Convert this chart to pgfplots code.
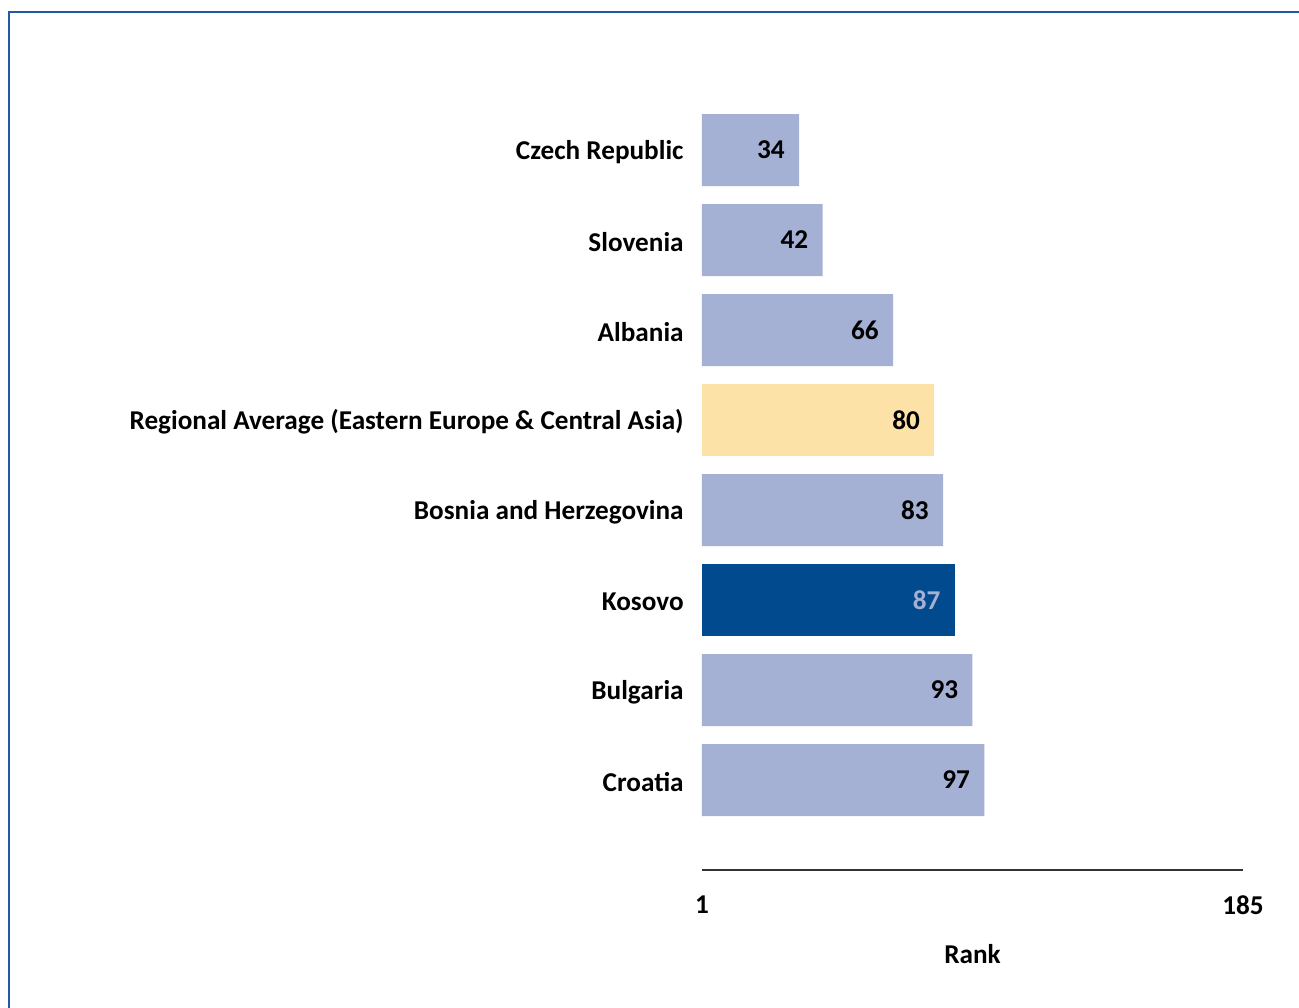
\documentclass[border=0pt]{standalone}
\usepackage{pgfplots}
\pgfplotsset{compat=1.18}
\usepackage{fontspec}
\setmainfont{Carlito}
\definecolor{barblue}{HTML}{A4B0D4}
\definecolor{kosovo}{HTML}{004A8D}
\definecolor{regavg}{HTML}{FDE2A8}
\definecolor{frameblue}{HTML}{1F5AA6}
\begin{document}
\begin{tikzpicture}[font=\bfseries\fontsize{13.6}{16}\selectfont]
\path[use as bounding box, fill=white] (-351pt,-68.5pt) rectangle (298.5pt,435pt);
\draw[frameblue, line width=1.4pt] (-346.5pt,-70pt) -- (-346.5pt,429pt) -- (300pt,429pt);
\begin{axis}[
    scale only axis,
    width=270.5pt, height=405pt,
    xbar, bar shift=0pt, bar width=36pt,
    xmin=1, xmax=185, ymin=-1, ymax=8,
    y dir=reverse,
    enlargelimits=false,
    axis x line*=bottom, axis y line*=left,
    y axis line style={draw=none},
    x axis line style={-, line width=0.75pt, draw=black!80},
    major tick length=0pt,
    ytick={0,...,7},
    yticklabels={Czech Republic, Slovenia, Albania,
      {Regional Average (Eastern Europe \& Central Asia)},
      Bosnia and Herzegovina, Kosovo, Bulgaria, Croatia},
    xtick={1,185},
    xticklabels={1,185},
    yticklabel style={inner sep=0pt, xshift=-9pt, yshift=-1pt},
    xticklabel style={inner sep=0pt, anchor=north, yshift=-12.5pt},
    xlabel={Rank},
    xlabel style={at={(axis description cs:0.5,0)}, anchor=north, inner sep=0pt, yshift=-37pt},
    /pgf/number format/assume math mode=true,
    nodes near coords,
    every node near coord/.append style={anchor=east, inner sep=0pt, xshift=-7pt},
]
\addplot[draw=none, fill=barblue] coordinates
  {(34,0) (42,1) (66,2) (83,4) (93,6) (97,7)};
\addplot[draw=none, fill=regavg] coordinates {(80,3)};
\addplot[draw=none, fill=kosovo, nodes near coords style={text=barblue}] coordinates {(87,5)};
\end{axis}
\end{tikzpicture}
\end{document}
